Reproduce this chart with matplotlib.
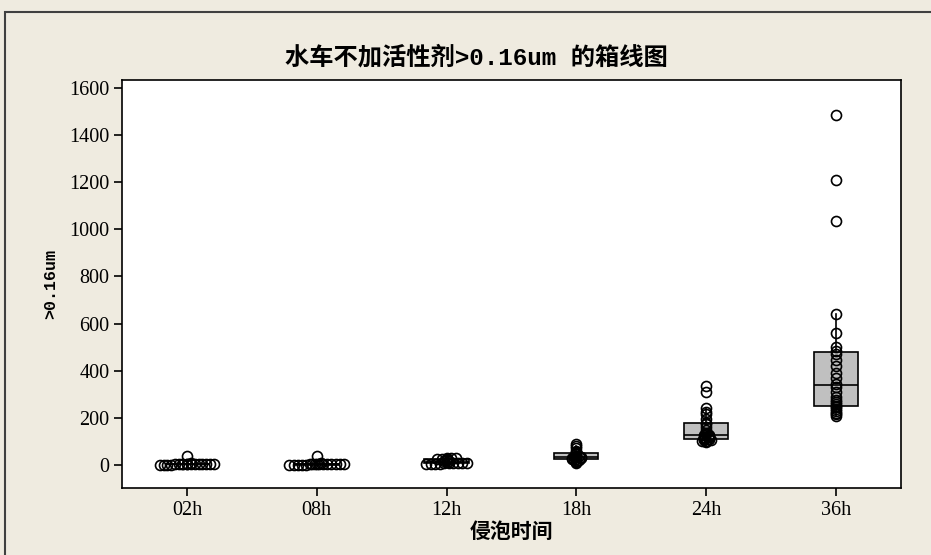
import numpy as np
import matplotlib.pyplot as plt
from matplotlib.patches import Rectangle

# 浸泡时间分组及各组 >0.16um 颗粒数
groups = ['02h', '08h', '12h', '18h', '24h', '36h']
v02 = [0, 1, 1, 1, 2, 2, 2, 2, 3, 3, 3, 3, 4, 4, 4, 5, 6, 7, 38]
v08 = [0, 0, 1, 1, 1, 2, 2, 2, 3, 3, 3, 4, 4, 4, 5, 6, 8, 37]
v12 = [5, 5, 6, 6, 7, 7, 8, 8, 9, 9, 12, 15, 18, 21, 25, 26, 27, 28, 29, 31]
v18 = [8, 12, 15, 20, 22, 25, 27, 28, 30, 32, 33, 35, 38, 40, 45, 50, 55, 60, 70, 80, 90]
v24 = [98, 100, 102, 104, 105, 108, 110, 112, 115, 118, 120, 122, 125, 128, 130,
       135, 150, 160, 175, 180, 195, 215, 225, 240, 310, 335]
v36 = [208, 215, 222, 230, 238, 245, 250, 258, 265, 275, 290, 310, 330, 345, 370,
       390, 420, 445, 470, 485, 500, 560, 640, 1035, 1210, 1485]
data = [v02, v08, v12, v18, v24, v36]

bg = '#EFEBE0'
mono_cjk = ['Liberation Mono', 'Noto Sans CJK SC']


def spread(vals, binw=5.0, step=0.035, maxhalf=0.21):
    # 同一区间内的点左右展开
    vals = np.asarray(vals, dtype=float)
    bins = np.floor(vals / binw)
    off = np.zeros(len(vals))
    for b in np.unique(bins):
        idx = np.where(bins == b)[0]
        n = len(idx)
        if n > 1:
            half = min((n - 1) / 2 * step, maxhalf)
            off[idx] = np.linspace(-half, half, n)
    return off


fig = plt.figure(figsize=(9.31, 5.55), dpi=100, facecolor=bg)
fig.patches.append(Rectangle((5 / 931, -0.1), 2, 1.1 - 12 / 555, transform=fig.transFigure,
                             fill=False, edgecolor='#404040', lw=1.5))
ax = fig.add_axes([0.131, 0.1207, 0.8368, 0.7352])
ax.set_facecolor('white')

pos = np.arange(1, len(groups) + 1)
ax.boxplot(data, positions=pos, widths=0.34, whis=1.5, showfliers=False,
           patch_artist=True,
           boxprops=dict(facecolor='#C0C0C0', edgecolor='black', lw=1.2),
           medianprops=dict(color='black', lw=1.2),
           whiskerprops=dict(color='black', lw=1.2),
           capprops=dict(lw=0))

for p, vals in zip(pos, data):
    ax.plot(p + spread(vals), vals, 'o', ms=7.2, mfc='none', mec='black', mew=1.2, zorder=3)

ax.set_xlim(0.5, 6.5)
ax.set_ylim(-98, 1634)
ax.set_xticks(pos)
ax.set_xticklabels(groups)
ax.set_yticks(np.arange(0, 1601, 200))
for lab in ax.get_xticklabels() + ax.get_yticklabels():
    lab.set_family('Liberation Serif')
    lab.set_fontsize(14.5)
ax.tick_params(direction='out', length=6, width=1.2, colors='black', pad=3)
for s in ax.spines.values():
    s.set_linewidth(1.2)

fig.text(0.5113, 0.897, '水车不加活性剂>0.16um 的箱线图', ha='center', va='center',
         fontsize=17.5, fontweight='bold', family=mono_cjk)
ax.set_ylabel('>0.16um', family=mono_cjk, fontsize=12, fontweight='bold', labelpad=8)
ax.set_xlabel('侵泡时间', family=mono_cjk, fontsize=15, fontweight='bold', labelpad=2)

fig.savefig('out.png', dpi=100, facecolor=bg)
